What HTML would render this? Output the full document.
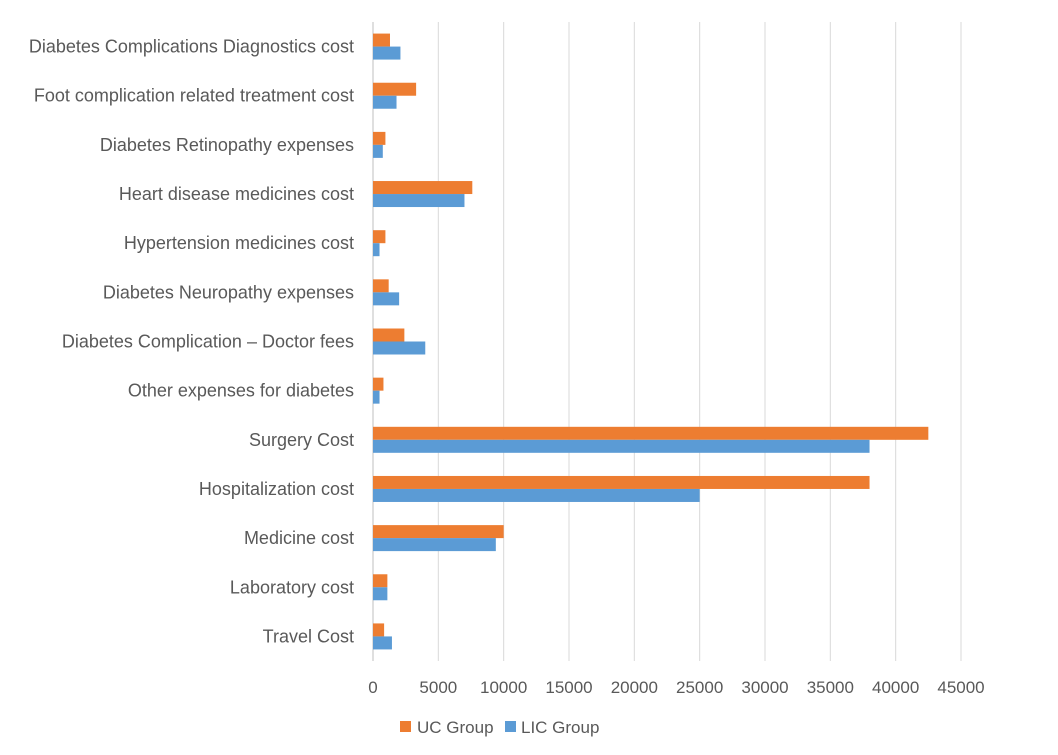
<!DOCTYPE html>
<html><head><meta charset="utf-8"><style>
body{margin:0;background:#fff;}
svg text{font-family:"Liberation Sans",sans-serif;fill:#595959;}
</style></head><body>
<svg id="chart" width="1058" height="750" xmlns="http://www.w3.org/2000/svg">
<g id="grid"></g>
<g id="bars"></g>
<g id="ylabels"></g>
<g id="xlabels"></g>
<g>
<rect x="400" y="721" width="11" height="11" fill="#ED7D31"/>
<text x="417" y="733" font-size="17">UC Group</text>
<rect x="505" y="721" width="11" height="11" fill="#5B9BD5"/>
<text x="521" y="733" font-size="17">LIC Group</text>
</g>
</svg>
<script>
const categories=["Diabetes Complications Diagnostics cost","Foot complication related treatment cost","Diabetes Retinopathy expenses","Heart disease medicines cost","Hypertension medicines cost","Diabetes Neuropathy expenses","Diabetes Complication \u2013 Doctor fees","Other expenses  for diabetes","Surgery Cost","Hospitalization cost","Medicine cost","Laboratory cost","Travel Cost"];
const ucValues=[1300,3300,950,7600,950,1200,2400,800,42500,38000,10000,1100,850];
const licValues=[2100,1800,750,7000,500,2000,4000,500,38000,25000,9400,1100,1450];
const xTicks=[0,5000,10000,15000,20000,25000,30000,35000,40000,45000];
const NS="http://www.w3.org/2000/svg";
const x0=373,x1=961,xMax=45000,yTop=22,yBottom=661;
const xs=v=>x0+(v/xMax)*(x1-x0);
const band=(yBottom-yTop)/categories.length;
const yc=i=>yTop+band*(i+0.5);
function mk(tag,attrs,parent){const e=document.createElementNS(NS,tag);for(const k in attrs)e.setAttribute(k,attrs[k]);parent.appendChild(e);return e;}
const grid=document.getElementById('grid'),bars=document.getElementById('bars'),yl=document.getElementById('ylabels'),xl=document.getElementById('xlabels');
xTicks.forEach(t=>{
  const l=mk('line',{x1:xs(t),x2:xs(t),y1:yTop,y2:yBottom,stroke:t===0?'#bfbfbf':'#d9d9d9','stroke-width':1},grid);
  
  
  const tx=mk('text',{x:xs(t),y:693,'font-size':17,'text-anchor':'middle'},xl);
  tx.textContent=t;
  
  
});
categories.forEach((c,i)=>{
  const y=yc(i);
  const a=mk('rect',{x:x0,y:y-13,width:xs(ucValues[i])-x0,height:13,fill:'#ED7D31'},bars);
  
  
  const b=mk('rect',{x:x0,y:y,width:xs(licValues[i])-x0,height:13,fill:'#5B9BD5'},bars);
  
  
  const t=mk('text',{x:354,y:y+6,'font-size':18,'text-anchor':'end'},yl);
  t.textContent=c;
  
  
});
</script>
</body></html>
